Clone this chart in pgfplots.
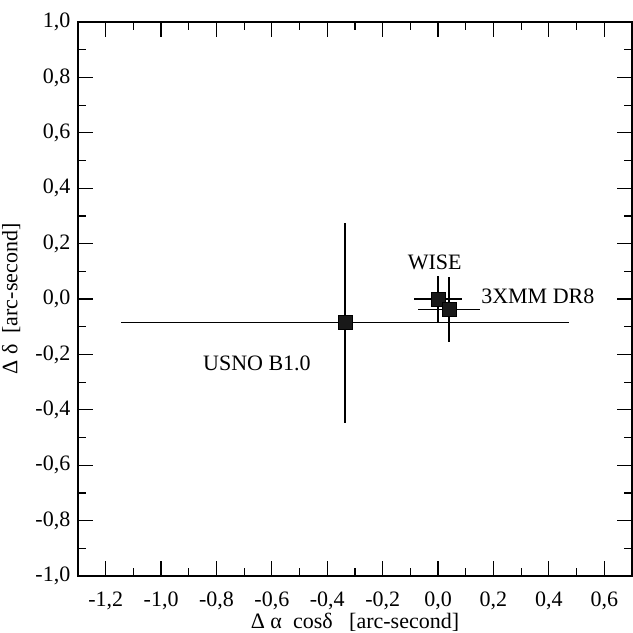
\documentclass[border=0pt]{standalone}
\usepackage{fontspec}
\setmainfont{Liberation Serif}
\usepackage{pgfplots}
\pgfplotsset{compat=1.18}
\begin{document}
\fontsize{11}{13}\selectfont
\begin{tikzpicture}
\begin{axis}[
  width=277pt, height=277pt, scale only axis,
  xmin=-1.3, xmax=0.7, ymin=-1, ymax=1,
  xtick={-1.2,-1.0,-0.8,-0.6,-0.4,-0.2,0,0.2,0.4,0.6},
  ytick={-1,-0.8,-0.6,-0.4,-0.2,0,0.2,0.4,0.6,0.8,1},
  minor x tick num=1, minor y tick num=1,
  tick align=inside, major tick length=7.5pt, minor tick length=3.8pt,
  axis line style={line width=0.9pt},
  every tick/.style={black, line width=0.6pt},
  tick label style={font=\fontsize{11}{13}\selectfont},
  xticklabel style={yshift=-4pt},
  /pgf/number format/.cd, fixed, fixed zerofill, precision=1, use comma, assume math mode=true,
  /pgfplots/.cd,
  xlabel={Δ α\ \ cosδ\ \ \ [arc-second]},
  ylabel={Δ δ\ \ [arc-second]},
  xlabel style={at={(axis description cs:0.5,0)}, anchor=center, yshift=-23pt},
  label style={font=\fontsize{11}{13}\selectfont},
]
\addplot+[only marks, mark=square*, mark size=3.5pt, black, mark options={fill=black!90},
  error bars/.cd, x dir=both, x explicit, y dir=both, y explicit, error mark=none,
  error bar style={line width=0.65pt, black}]
  coordinates {
  (0,0) +- (0.088,0.084)
  (0.039,-0.037) +- (0.113,0.117)
  (-0.336,-0.086) +- (0.81,0.36)
};
\node at (axis cs:-0.012,0.134) {WISE};
\node[anchor=west] at (axis cs:0.128,0.008) {3XMM DR8};
\node[anchor=west] at (axis cs:-0.876,-0.232) {USNO B1.0};
\end{axis}
\pgfresetboundingbox
\path[use as bounding box] ([shift={(-39pt,-28.5pt)}]current axis.south west) rectangle ([shift={(0.5pt,11pt)}]current axis.north east);
\end{tikzpicture}
\end{document}
